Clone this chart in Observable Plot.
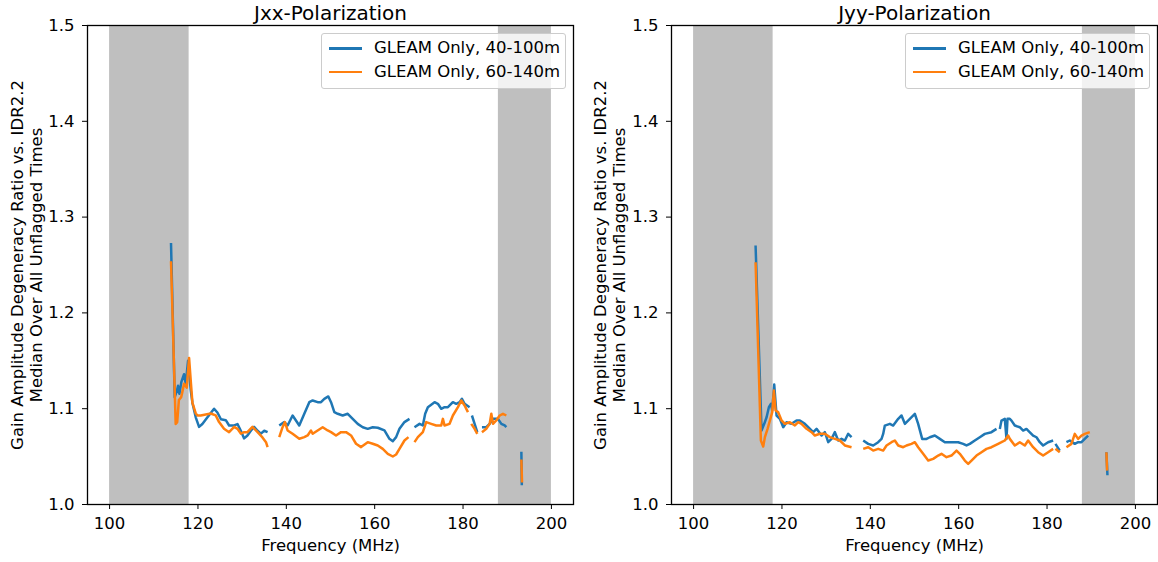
<!DOCTYPE html>
<html><head><meta charset="utf-8">
<script src="https://cdn.jsdelivr.net/npm/d3@7"></script>
<script src="https://cdn.jsdelivr.net/npm/@observablehq/plot@0.6"></script>
<style>
html,body{margin:0;padding:0;background:#fff;}
#wrap{position:relative;width:1158px;height:562px;overflow:hidden;font-family:"DejaVu Sans",sans-serif;}
.panel{position:absolute;top:0;}
.legend{position:absolute;top:33px;width:243px;height:54px;border:1px solid #cccccc;border-radius:3px;background:rgba(255,255,255,0.8);font-size:16.5px;color:#000;}
.row{position:absolute;left:0;height:20px;width:240px;}
.sw{position:absolute;left:7px;width:33px;height:2.5px;}
.lt{position:absolute;left:52px;top:0;white-space:nowrap;line-height:20px;}
</style></head><body><div id="wrap"></div>
<script>
// ---------- data ----------
const bandStart = [100, 188];
const bandEnd = [118, 200];
const xTicks = [100, 120, 140, 160, 180, 200];
const yTicks = [1.0, 1.1, 1.2, 1.3, 1.4, 1.5];
const seriesNames = ["GLEAM Only, 40-100m", "GLEAM Only, 60-140m"];
const seriesColors = ["#1f77b4", "#ff7f0e"];
const panelTitles = ["Jxx-Polarization", "Jyy-Polarization"];
const xLabel = "Frequency (MHz)";
const yLabel = "Gain Amplitude Degeneracy Ratio vs. IDR2.2\nMedian Over All Unflagged Times";

// Jxx, 40-100m (null = gap)
const jxxF40 = [113.9,114.74,115.2,115.49,115.8,116.25,116.85,117.23,117.76,118.37,118.75,119.5,120.25,121.0,122.15,123.65,124.4,125.2,126.3,127.05,128.2,128.95,129.7,130.45,131.2,131.97,132.7,133.5,134.24,135.0,135.76,
  null,
  138.4,139.53,140.29,141.42,142.18,142.93,144.07,145.2,145.96,147.09,147.85,148.6,149.51,150.12,150.87,151.63,152.76,153.9,155.03,156.16,157.3,158.43,159.56,160.7,162.21,163.34,164.1,164.85,165.61,166.74,167.88,
  null,
  169.01,170.15,170.9,171.43,172.04,173.55,174.3,175.06,175.81,176.57,177.7,178.46,179.22,179.75,180.35,181.48,
  null,
  182.01,182.62,183.22,
  null,
  184.28,185.26,186.02,186.78,187.91,188.67,189.42,189.8,
  null,
  193.2,193.3];
const jxxV40 = [1.273,1.112,1.118,1.124,1.1155,1.128,1.136,1.126,1.150,1.119,1.106,1.091,1.081,1.084,1.091,1.100,1.096,1.089,1.088,1.0825,1.0825,1.084,1.077,1.069,1.072,1.077,1.081,1.077,1.074,1.077,1.0755,
  null,
  1.0825,1.0860,1.0825,1.0929,1.0877,1.0825,1.0947,1.1068,1.1086,1.1068,1.1068,1.1103,1.1128,1.1068,1.0964,1.0947,1.0929,1.0947,1.0894,1.0842,1.0807,1.0790,1.0807,1.0801,1.0773,1.0686,1.0661,1.0703,1.0790,1.0860,1.0894,
  null,
  1.0807,1.0842,1.0825,1.0947,1.1016,1.1068,1.1051,1.0999,1.1016,1.1016,1.1068,1.1051,1.1068,1.1103,1.1051,1.1016,
  null,
  1.0929,1.0842,1.0755,
  null,
  1.0807,1.0807,1.0842,1.0894,1.0894,1.0842,1.0825,1.0807,
  null,
  1.055,1.020];

// Jxx, 60-140m
const jxxF60 = [113.9,114.96,115.3,115.68,116.2,116.4,116.85,117.46,117.99,118.37,118.75,119.5,119.88,120.63,121.76,122.9,124.02,124.78,125.9,127.05,128.2,128.95,129.7,130.45,131.2,132.33,133.5,134.6,135.4,135.76,
  null,
  138.4,139.15,139.68,140.29,141.42,142.93,144.07,144.82,145.58,145.96,147.09,148.23,149.36,150.12,151.25,152.38,153.52,154.65,155.78,156.92,158.43,159.56,160.7,161.83,162.97,164.1,164.85,165.61,166.74,167.65,
  null,
  169.01,169.77,170.9,171.66,172.79,173.92,175.06,175.44,175.81,176.95,177.7,178.84,179.6,180.35,181.11,
  null,
  181.86,182.62,183.22,
  null,
  184.28,185.26,186.02,186.4,186.78,187.53,188.29,189.04,189.8,
  null,
  193.2,193.35];
const jxxV60 = [1.254,1.084,1.086,1.109,1.112,1.116,1.126,1.122,1.153,1.129,1.106,1.095,1.093,1.093,1.094,1.095,1.093,1.086,1.079,1.0755,1.081,1.079,1.074,1.0755,1.0755,1.081,1.0755,1.070,1.065,1.060,
  null,
  1.0703,1.0807,1.0860,1.0773,1.0738,1.0686,1.0703,1.0721,1.0773,1.0738,1.0773,1.0807,1.0773,1.0755,1.0721,1.0755,1.0755,1.0721,1.0634,1.0599,1.0651,1.0634,1.0616,1.0581,1.0529,1.0501,1.0522,1.0581,1.0668,1.0703,
  null,
  1.0651,1.0703,1.0755,1.0860,1.0842,1.0825,1.0825,1.0894,1.0825,1.0842,1.0929,1.1016,1.1086,1.1034,1.0964,
  null,
  1.0842,1.0790,1.0738,
  null,
  1.0755,1.0790,1.0842,1.0947,1.0842,1.0877,1.0929,1.0947,1.0929,
  null,
  1.047,1.023];

// Jyy, 40-100m
const jyyF40 = [114.03,115.38,115.99,116.52,117.04,117.5,117.8,118.25,118.78,119.53,120.29,121.04,122.17,123.3,124.06,125.19,125.94,127.07,127.83,128.96,129.71,130.47,131.22,131.98,132.73,133.48,134.24,134.99,135.75,
  null,
  138.39,139.52,140.65,141.78,142.54,142.91,143.29,144.42,145.18,146.31,147.06,147.82,148.95,150.08,150.83,151.74,152.72,153.47,154.6,155.74,156.87,158.37,159.88,161.01,161.77,162.52,163.65,164.78,165.92,167.42,168.56,
  null,
  169.31,169.69,170.44,170.82,171.05,171.57,171.95,172.7,173.83,174.59,175.34,175.72,176.85,177.61,178.36,179.11,180.24,181.38,
  null,
  181.9,182.88,
  null,
  184.39,185.15,186.28,187.03,187.79,188.54,189.3,
  null,
  193.44,193.67];
const jyyV40 = [1.2703,1.0772,1.0842,1.0911,1.1016,1.1051,1.0981,1.1252,1.0929,1.0894,1.0807,1.0859,1.0842,1.0877,1.0877,1.0842,1.0807,1.0755,1.0790,1.0720,1.0755,1.0651,1.0685,1.0755,1.0668,1.0685,1.0668,1.0738,1.0703,
  null,
  1.0668,1.0633,1.0616,1.0650,1.0685,1.0737,1.0824,1.0842,1.0824,1.0894,1.0929,1.0842,1.0894,1.0946,1.0842,1.0685,1.0685,1.0702,1.0720,1.0685,1.0650,1.0650,1.0650,1.0633,1.0616,1.0633,1.0668,1.0702,1.0737,1.0755,1.0789,
  null,
  1.0789,1.0876,1.0894,1.0685,1.0894,1.0894,1.0876,1.0824,1.0807,1.0772,1.0789,1.0772,1.0720,1.0702,1.0650,1.0616,1.0650,1.0668,
  null,
  1.0633,1.0563,
  null,
  1.0650,1.0668,1.0633,1.0650,1.0650,1.0685,1.0720,
  null,
  1.0546,1.0305];

// Jyy, 60-140m
const jyyF60 = [114.03,115.23,115.76,116.14,116.74,117.27,117.8,118.17,118.55,119.15,119.91,120.66,121.8,122.93,123.68,124.43,125.57,126.7,127.45,128.58,129.71,130.84,131.98,133.11,134.24,135.75,
  null,
  138.39,139.52,140.65,141.78,142.91,143.67,144.8,145.55,146.31,147.44,148.19,149.32,150.08,150.83,151.96,153.1,154.23,155.36,156.11,157.24,158.37,159.51,160.26,161.39,162.15,162.9,164.03,165.16,166.29,167.42,168.93,169.69,170.44,171.2,171.57,172.7,173.83,174.97,175.72,176.85,177.98,179.11,180.24,181.38,
  null,
  181.9,182.88,
  null,
  184.39,185.52,186.28,187.03,187.79,188.54,189.67,
  null,
  193.44,193.59];
const jyyV60 = [1.2529,1.0668,1.0605,1.0703,1.0790,1.0877,1.0964,1.1190,1.0981,1.0964,1.0877,1.0842,1.0859,1.0825,1.0859,1.0842,1.0790,1.0755,1.0720,1.0738,1.0738,1.0703,1.0685,1.0668,1.0616,1.0598,
  null,
  1.0581,1.0598,1.0563,1.0581,1.0563,1.0616,1.0650,1.0668,1.0616,1.0598,1.0616,1.0633,1.0650,1.0598,1.0529,1.0459,1.0476,1.0511,1.0529,1.0494,1.0511,1.0563,1.0529,1.0459,1.0424,1.0459,1.0511,1.0546,1.0581,1.0598,1.0633,1.0650,1.0668,1.0720,1.0685,1.0616,1.0650,1.0616,1.0668,1.0598,1.0546,1.0511,1.0546,1.0581,
  null,
  1.0581,1.0546,
  null,
  1.0598,1.0633,1.0737,1.0685,1.0720,1.0737,1.0755,
  null,
  1.0546,1.0354];

// ---------- build ----------
const bands = bandStart.map((s, i) => ({start: s, end: bandEnd[i]}));
const toRows = (F, V) => F.map((f, i) => ({f: f, v: V[i]}));

const panels = [
  {title: panelTitles[0], left: 0, width: 580, marginLeft: 87, marginRight: 7, series: [toRows(jxxF40, jxxV40), toRows(jxxF60, jxxV60)], ylabDx: -61, legendLeft: 321},
  {title: panelTitles[1], left: 580, width: 578, marginLeft: 91, marginRight: 1, series: [toRows(jyyF40, jyyV40), toRows(jyyF60, jyyV60)], ylabDx: -62, legendLeft: 905}
];

const wrap = document.getElementById("wrap");
for (const p of panels) {
  const chart = Plot.plot({
    width: p.width,
    height: 562,
    marginTop: 25,
    marginBottom: 58,
    marginLeft: p.marginLeft,
    marginRight: p.marginRight,
    style: {fontFamily: "DejaVu Sans, sans-serif", fontSize: "16.5px", color: "#000", background: "transparent", overflow: "visible"},
    x: {domain: [95, 205], ticks: xTicks, tickSize: 5, tickPadding: 8, label: null},
    y: {domain: [1.0, 1.5], ticks: yTicks, tickFormat: d3.format(".1f"), tickSize: 5, tickPadding: 8, label: null},
    marks: [
      Plot.rect(bands, {x1: "start", x2: "end", fill: "#bfbfbf"}),
      ...p.series.map((rows, i) => Plot.line(rows, {x: "f", y: "v", stroke: seriesColors[i], strokeWidth: 2.5, strokeLinejoin: "round", strokeLinecap: "butt"})),
      Plot.frame({stroke: "#000", strokeWidth: 1.3}),
      Plot.text([p.title], {text: d => d, frameAnchor: "top", lineAnchor: "bottom", dy: -6, fontSize: 20}),
      Plot.text([xLabel], {text: d => d, frameAnchor: "bottom", lineAnchor: "middle", dy: 41}),
      Plot.text([yLabel], {text: d => d, frameAnchor: "left", rotate: -90, dx: p.ylabDx, textAnchor: "middle", lineAnchor: "middle", lineHeight: 1.12})
    ]
  });
  const div = document.createElement("div");
  div.className = "panel";
  div.style.left = p.left + "px";
  div.appendChild(chart);
  wrap.appendChild(div);

  const lg = document.createElement("div");
  lg.className = "legend";
  lg.style.left = p.legendLeft + "px";
  seriesNames.forEach((name, i) => {
    const row = document.createElement("div");
    row.className = "row";
    row.style.top = (4 + i * 23.5) + "px";
    const sw = document.createElement("div");
    sw.className = "sw";
    sw.style.top = "9px";
    sw.style.background = seriesColors[i];
    const lt = document.createElement("div");
    lt.className = "lt";
    lt.textContent = name;
    row.appendChild(sw);
    row.appendChild(lt);
    lg.appendChild(row);
  });
  wrap.appendChild(lg);
}
</script>
</body></html>
